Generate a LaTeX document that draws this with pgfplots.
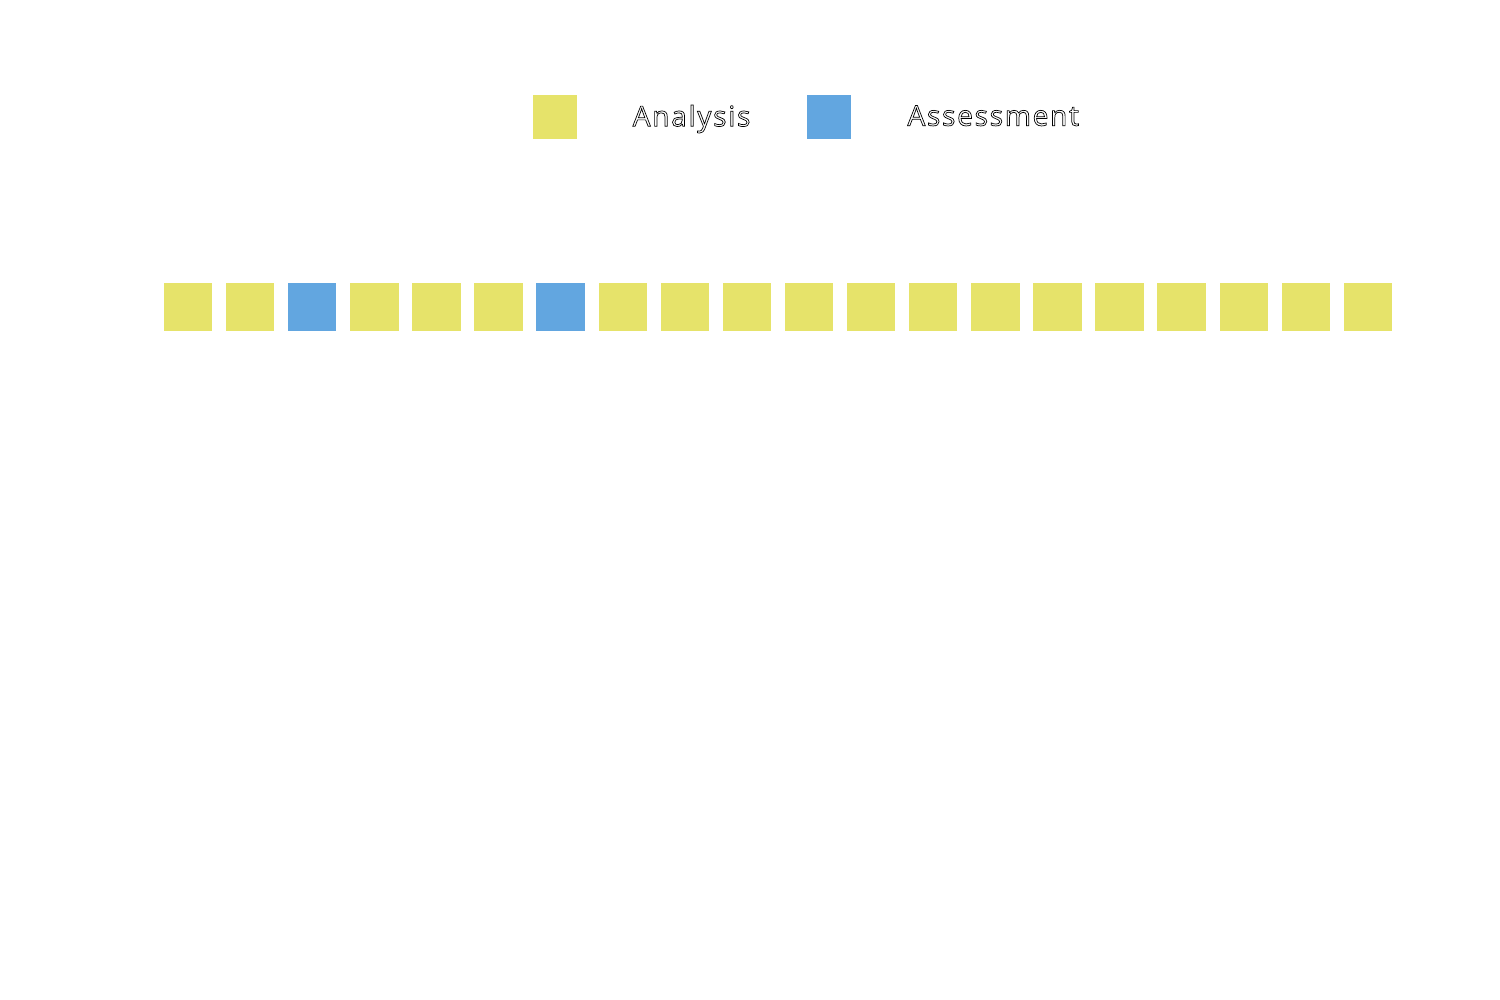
\documentclass[border=0pt]{standalone}
\usepackage{pgfplots}
\pgfplotsset{compat=1.18}
\usepackage{fontspec}
\setmainfont{Open Sans}[LetterSpace=6]
\definecolor{cyel}{RGB}{230,227,106}
\definecolor{cblue}{RGB}{98,166,224}
\newcommand\outl[1]{\raisebox{-0.025cm}{\special{pdf:literal direct 1 Tr 0.2 w}#1\special{pdf:literal direct 0 Tr}}}
\begin{document}
\begin{tikzpicture}
\begin{axis}[
  scale only axis, width=15cm, height=10cm,
  xmin=0, xmax=1500, ymin=0, ymax=1000, y dir=reverse,
  hide axis, clip=false,
  legend columns=2,
  legend style={at={(axis cs:532,117)}, anchor=west, draw=none, fill=none,
    inner sep=0pt, font=\fontsize{8}{10}\selectfont,
    /tikz/every odd column/.append style={column sep=0.49cm},
    /tikz/every even column/.append style={column sep=0.5cm}},
  legend cell align=left,
  legend image code/.code={\fill[#1,draw=none] (0cm,-0.22cm) rectangle (0.44cm,0.22cm);},
]
\addplot[only marks, mark=square*, color=cyel, mark options={draw=none}, mark size=0.235cm]
coordinates {(188,307)(250.1,307)(374.3,307)(436.4,307)(498.5,307)(622.7,307)(684.8,307)(746.9,307)(809,307)(871.1,307)(933.2,307)(995.3,307)(1057.4,307)(1119.5,307)(1181.6,307)(1243.7,307)(1305.8,307)(1367.9,307)};
\addlegendentry{\outl{Analysis}}
\addplot[only marks, mark=square*, color=cblue, mark options={draw=none}, mark size=0.235cm]
coordinates {(312.2,307)(560.6,307)};
\addlegendentry{\outl{Assessment}}
\end{axis}
\pgfresetboundingbox
\path (0,0) rectangle (15,10);
\end{tikzpicture}
\end{document}
